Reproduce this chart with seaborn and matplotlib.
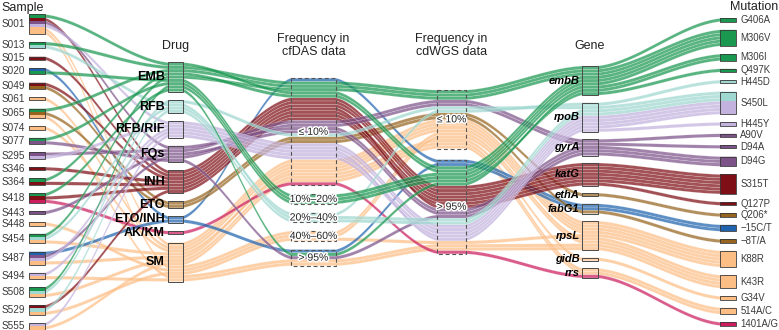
import numpy as np
import pandas as pd
import matplotlib
matplotlib.use("Agg")
import matplotlib.pyplot as plt
import matplotlib.patheffects as pe
from matplotlib.patches import Rectangle
import seaborn as sns

# ---- strata (axis levels, top to bottom) ----
samples = ["S001", "S013", "S015", "S020", "S049", "S061", "S065", "S074", "S077", "S295", "S346",
           "S364", "S418", "S443", "S448", "S454", "S487", "S494", "S508", "S529", "S555"]
drugs = ["EMB", "RFB", "RFB/RIF", "FQs", "INH", "ETO", "ETO/INH", "AK/KM", "SM"]
cfdas_levels = ["≤ 10%", "10%–20%", "20%–40%", "40%–60%", "> 95%"]
cdwgs_levels = ["≤ 10%", "> 95%"]
genes = ["embB", "rpoB", "gyrA", "katG", "ethA", "fabG1", "rpsL", "gidB", "rrs"]
mutations = ["G406A", "M306V", "M306I", "Q497K", "H445D", "S450L", "H445Y", "A90V", "D94A", "D94G",
             "S315T", "Q127P", "Q206*", "−15C/T", "−8T/A", "K88R", "K43R", "G34V", "514A/C", "1401A/G"]

# ---- one entry per detected mutation (alluvium) ----
flow_sample = ["S001", "S013", "S020", "S065", "S077", "S364", "S418", "S454", "S508",
               "S013", "S454", "S508", "S529",
               "S001", "S295", "S487", "S494", "S555",
               "S001", "S077", "S295", "S443", "S487",
               "S001", "S015", "S049", "S346", "S364", "S418", "S529",
               "S049", "S065", "S020", "S487", "S418",
               "S001", "S001", "S061", "S065", "S074", "S448", "S454", "S487", "S494", "S508", "S529", "S555"]
flow_drug = ["EMB"] * 9 + ["RFB"] * 4 + ["RFB/RIF"] * 5 + ["FQs"] * 5 + ["INH"] * 7 + \
            ["ETO"] * 2 + ["ETO/INH"] * 2 + ["AK/KM"] + ["SM"] * 12
flow_cfdas = ["≤ 10%", "≤ 10%", "10%–20%", "≤ 10%", "10%–20%", "≤ 10%", "> 95%", "≤ 10%", "10%–20%",
              "20%–40%", "20%–40%", "≤ 10%", "20%–40%",
              "≤ 10%", "≤ 10%", "≤ 10%", "≤ 10%", "≤ 10%",
              "≤ 10%", "> 95%", "≤ 10%", "≤ 10%", "≤ 10%",
              "≤ 10%", "≤ 10%", "≤ 10%", "≤ 10%", "≤ 10%", "≤ 10%", "≤ 10%",
              "≤ 10%", "≤ 10%", "≤ 10%", "> 95%", "≤ 10%",
              "≤ 10%", "40%–60%", "≤ 10%", "> 95%", "≤ 10%", "40%–60%", "≤ 10%", "≤ 10%", "> 95%",
              "≤ 10%", "40%–60%", "≤ 10%"]
flow_cdwgs = ["> 95%", "≤ 10%", "> 95%", "≤ 10%", "> 95%", "> 95%", "> 95%", "≤ 10%", "> 95%",
              "> 95%", "≤ 10%", "≤ 10%", "> 95%",
              "> 95%", "> 95%", "> 95%", "> 95%", "> 95%",
              "> 95%", "> 95%", "≤ 10%", "> 95%", "≤ 10%",
              "> 95%", "> 95%", "> 95%", "> 95%", "> 95%", "> 95%", "> 95%",
              "≤ 10%", "≤ 10%", "> 95%", "> 95%", "> 95%",
              "≤ 10%", "≤ 10%", "≤ 10%", "> 95%", "≤ 10%", "≤ 10%", "≤ 10%", "≤ 10%", "> 95%",
              "≤ 10%", "> 95%", "≤ 10%"]
flow_gene = ["embB"] * 9 + ["rpoB"] * 9 + ["gyrA"] * 5 + ["katG"] * 7 + \
            ["ethA", "fabG1", "fabG1", "fabG1", "rrs"] + \
            ["rpsL"] * 6 + ["gidB", "rpsL", "rpsL", "rrs", "rpsL", "rrs"]
flow_mutation = ["M306V", "G406A", "M306V", "M306V", "M306I", "M306V", "M306I", "M306V", "Q497K",
                 "S450L", "H445D", "S450L", "S450L",
                 "S450L", "S450L", "H445Y", "S450L", "S450L",
                 "D94G", "D94G", "A90V", "D94G", "D94A",
                 "S315T", "S315T", "S315T", "Q127P", "S315T", "S315T", "S315T",
                 "Q206*", "−8T/A", "−15C/T", "−15C/T", "1401A/G",
                 "K88R", "K43R", "K88R", "K43R", "K88R", "K43R", "G34V", "K88R", "K43R",
                 "514A/C", "K88R", "514A/C"]

drug_colors = {"EMB": "#1a9850", "RFB": "#9fd8d1", "RFB/RIF": "#c3b2de", "FQs": "#7d5289",
               "INH": "#7f0f16", "ETO": "#96641f", "ETO/INH": "#1f63ae", "AK/KM": "#cc1d5f",
               "SM": "#fdbe85"}
# lodes inside a stratum are stacked by fill (drug) in this order
fill_order = ["ETO/INH", "EMB", "INH", "FQs", "RFB", "ETO", "RFB/RIF", "SM", "AK/KM"]

df = pd.DataFrame({"sample": flow_sample, "drug": flow_drug, "cfdas": flow_cfdas,
                   "cdwgs": flow_cdwgs, "gene": flow_gene, "mutation": flow_mutation})

cols = ["sample", "drug", "cfdas", "cdwgs", "gene", "mutation"]
levels = [samples, drugs, cfdas_levels, cdwgs_levels, genes, mutations]
gaps = [2.5, 2.55, 2.68, 3.4, 2.28, 2.5]
widths = [0.116, 0.11, 0.33, 0.21, 0.116, 0.12]

n = len(df)
K = len(cols)
idx = {c: df[c].map({v: i for i, v in enumerate(lv)}).to_numpy() for c, lv in zip(cols, levels)}
fill_rank = df["drug"].map({v: i for i, v in enumerate(fill_order)}).to_numpy()


def zigzag(k):
    out = []
    for d in range(1, K):
        for m in (k + d, k - d):
            if 0 <= m < K:
                out.append(m)
    return out


# stack lodes inside each stratum, strata centered on 0
tops = np.zeros((K, n))
spans = []
for k, c in enumerate(cols):
    total = n + gaps[k] * (len(levels[k]) - 1)
    y = -total / 2
    sp = {}
    guide = zigzag(k)
    for j, name in enumerate(levels[k]):
        members = [i for i in range(n) if idx[c][i] == j]
        members.sort(key=lambda i: (fill_rank[i],) + tuple(idx[cols[m]][i] for m in guide))
        for r, i in enumerate(members):
            tops[k, i] = y + r
        sp[name] = (y, y + len(members), members)
        y += len(members) + gaps[k]
    spans.append(sp)

sns.set_theme(style="white")
plt.rcParams["font.family"] = ["Liberation Sans", "DejaVu Sans"]

fig = plt.figure(figsize=(7.79, 3.30), dpi=100)
ax = fig.add_axes([0, 0, 1, 1])
ax.set_xlim(-0.2677, 5.369)
ax.set_ylim(48.62, -52.92)
ax.axis("off")

t = np.linspace(0, 1, 40)[1:-1]
ease = 0.3 * t + 0.7 * t * t * (3 - 2 * t)

# ribbons
for i in reversed(range(n)):
    xs, ys = [], []
    for k in range(K):
        x0, x1 = k - widths[k] / 2, k + widths[k] / 2
        xs += [x0, x1]
        ys += [tops[k, i]] * 2
        if k < K - 1:
            xb = k + 1 - widths[k + 1] / 2
            xs += list(x1 + (xb - x1) * t)
            ys += list(tops[k, i] + (tops[k + 1, i] - tops[k, i]) * ease)
    xs = np.array(xs)
    ys = np.array(ys)
    px = np.concatenate([xs, xs[::-1]])
    py = np.concatenate([ys, ys[::-1] + 1])
    col = matplotlib.colors.to_rgb(drug_colors[flow_drug[i]])
    ax.fill(px, py, facecolor=col + (0.72,), edgecolor=(1, 1, 1, 0.5), linewidth=0.25, zorder=1)

# strata boxes
for k, c in enumerate(cols):
    w = widths[k]
    for name, (y0, y1, members) in spans[k].items():
        if k in (0, 5):
            for i in members:
                ax.add_patch(Rectangle((k - w / 2, tops[k, i]), w, 1,
                                       facecolor=drug_colors[flow_drug[i]], edgecolor="none", zorder=3))
            ax.add_patch(Rectangle((k - w / 2, y0), w, y1 - y0, fill=False,
                                   edgecolor="#3a3a3a", linewidth=0.6, zorder=4))
        elif k in (2, 3):
            ax.add_patch(Rectangle((k - w / 2, y0), w, y1 - y0, fill=False, edgecolor="#555555",
                                   linewidth=0.8, linestyle=(0, (3.5, 2.5)), zorder=4))
        else:
            ax.add_patch(Rectangle((k - w / 2, y0), w, y1 - y0, fill=False,
                                   edgecolor="#4a4a4a", linewidth=0.7, zorder=4))

halo = [pe.withStroke(linewidth=2.2, foreground="white")]
for name, (y0, y1, _) in spans[0].items():
    ax.text(0.002, (y0 + y1) / 2, name, transform=ax.get_yaxis_transform(), ha="left",
            va="center", fontsize=7.2, color="#3a3a3a")
for name, (y0, y1, _) in spans[1].items():
    ax.text(1 - widths[1] / 2 - 0.02, (y0 + y1) / 2, name, ha="right", va="center",
            fontsize=9, fontweight="bold", color="black", zorder=5)
for k in (2, 3):
    for name, (y0, y1, _) in spans[k].items():
        ax.text(k, (y0 + y1) / 2, name, ha="center", va="center", fontsize=7.5,
                color="#222222", path_effects=halo, zorder=5)
for name, (y0, y1, _) in spans[4].items():
    ax.text(4 - widths[4] / 2 - 0.015, (y0 + y1) / 2, name, ha="right", va="center",
            fontsize=8, fontweight="bold", fontstyle="italic", color="black", zorder=5)
for name, (y0, y1, _) in spans[5].items():
    ax.text(5 + widths[5] / 2 + 0.03, (y0 + y1) / 2, name, ha="left", va="center",
            fontsize=6.9, color="#3a3a3a")

# column headers
hdr = ax.get_xaxis_transform()
ax.text(0.002, 0.976, "Sample", transform=ax.transAxes, ha="left", va="center", fontsize=9, color="#222222")
ax.text(0.999, 0.980, "Mutation", transform=ax.transAxes, ha="right", va="center", fontsize=9, color="#222222")
ax.text(1, 0.862, "Drug", transform=hdr, ha="center", va="center", fontsize=9, color="#222222")
ax.text(2, 0.862, "Frequency in\ncfDAS data", transform=hdr, ha="center", va="center",
        fontsize=9, color="#222222", linespacing=1.05)
ax.text(3, 0.862, "Frequency in\ncdWGS data", transform=hdr, ha="center", va="center",
        fontsize=9, color="#222222", linespacing=1.05)
ax.text(4, 0.862, "Gene", transform=hdr, ha="center", va="center", fontsize=9, color="#222222")

fig.savefig("out.png", dpi=100)
